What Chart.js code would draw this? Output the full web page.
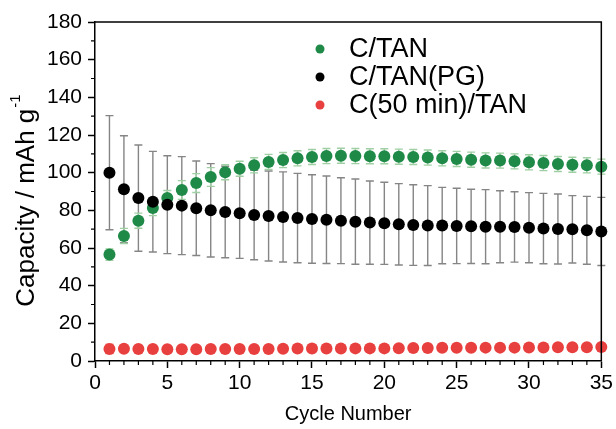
<!DOCTYPE html>
<html>
<head>
<meta charset="utf-8">
<script src="https://cdn.jsdelivr.net/npm/chart.js@4"></script>
<style>
  html, body { margin: 0; padding: 0; background: #fff; }
  #wrap { width: 616px; height: 429px; }
</style>
</head>
<body>
<div id="wrap"><canvas id="cap-chart" width="616" height="429"></canvas></div>
<script>
// Cycle numbers 1..35
const cycles = [1,2,3,4,5,6,7,8,9,10,11,12,13,14,15,16,17,18,19,20,21,22,23,24,25,26,27,28,29,30,31,32,33,34,35];

// C/TAN (green)
const ctan = [56.5,66.4,74.5,81.2,86.5,90.8,94.5,97.7,100.2,102.1,103.9,105.7,106.7,107.6,108.3,108.8,109.0,108.8,108.7,108.7,108.5,108.3,108.0,107.6,107.3,106.9,106.5,106.4,106.0,105.5,105.1,104.6,104.2,103.9,103.2];
const ctanErr = [3,4,4,4,4,5,5,5,4,4,4,4,4,4,4,4,4,4,4,4,4,4,4,4,4,4,4,4,4,4,4,4,4,4,4];

// C/TAN(PG) (black)
const ctanPG = [100.0,91.2,86.5,84.6,83.0,82.5,81.1,80.0,79.1,78.4,77.5,77.0,76.5,75.9,75.4,75.0,74.5,74.0,73.5,73.1,72.6,72.2,71.9,71.9,71.7,71.5,71.3,71.3,71.2,70.8,70.3,70.1,69.9,69.4,68.8];
const ctanPGErr = [30.3,28.4,28.2,26.7,26.0,26.0,25.1,24.8,24.3,23.9,23.7,23.9,23.9,23.7,23.5,23.2,22.8,22.6,22.1,21.8,21.6,21.4,21.2,20.3,20.0,19.7,19.7,19.1,18.7,18.6,18.7,18.6,17.9,18.0,18.1];

// C(50 min)/TAN (red)
const c50 = [6.4,6.5,6.4,6.4,6.2,6.2,6.2,6.4,6.4,6.4,6.4,6.4,6.5,6.6,6.6,6.6,6.6,6.7,6.7,6.7,6.8,6.9,6.9,7.0,7.0,7.0,7.1,7.1,7.1,7.2,7.2,7.3,7.3,7.3,7.4];
const c50Err = [2.5,0.6,0.6,0.6,0.6,0.6,0.6,0.6,0.6,0.6,0.6,0.6,0.6,0.6,0.6,0.6,0.6,0.6,0.6,0.6,0.6,0.6,0.6,0.6,0.6,0.6,0.6,0.6,0.6,0.6,0.6,0.6,0.6,0.6,0.6];

const seriesLabels = ['C/TAN', 'C/TAN(PG)', 'C(50 min)/TAN'];
const GREEN = '#1f8a48';
const BLACK = '#000000';
const RED = '#e8403f';
const FONT = "'Liberation Sans', Arial, sans-serif";

const toPoints = (ys) => cycles.map((x, i) => ({ x, y: ys[i] }));

// error bars drawn under the markers
const errorBars = {
  id: 'errorBars',
  beforeDatasetsDraw(chart) {
    const { ctx, scales: { x, y } } = chart;
    const sets = [
      { vals: ctanPG, err: ctanPGErr, color: '#858585' },
      { vals: ctan, err: ctanErr, color: '#9fcfa3' },
      { vals: c50, err: c50Err, color: '#f0a0a0' },
    ];
    ctx.save();
    ctx.lineWidth = 1.4;
    sets.forEach(s => {
      ctx.strokeStyle = s.color;
      cycles.forEach((c, i) => {
        const px = x.getPixelForValue(c);
        const top = y.getPixelForValue(s.vals[i] + s.err[i]);
        const bot = y.getPixelForValue(s.vals[i] - s.err[i]);
        ctx.beginPath();
        ctx.moveTo(px, top); ctx.lineTo(px, bot);
        ctx.moveTo(px - 4, top); ctx.lineTo(px + 4, top);
        ctx.moveTo(px - 4, bot); ctx.lineTo(px + 4, bot);
        ctx.stroke();
      });
    });
    ctx.restore();
  }
};

// frame, minor ticks, y title, legend
const decorations = {
  id: 'decorations',
  afterDraw(chart) {
    const { ctx, chartArea: a, scales: { x, y } } = chart;
    ctx.save();
    ctx.strokeStyle = '#000';
    ctx.lineWidth = 1.5;
    ctx.beginPath();
    ctx.moveTo(a.left, a.top); ctx.lineTo(a.right, a.top); ctx.lineTo(a.right, a.bottom);
    ctx.stroke();

    ctx.lineWidth = 1.2;
    ctx.beginPath();
    for (let v = 1; v < 35; v++) {
      if (v % 5 === 0) continue;
      const px = x.getPixelForValue(v);
      ctx.moveTo(px, a.bottom); ctx.lineTo(px, a.bottom + 4);
    }
    for (let v = 10; v < 180; v += 20) {
      const py = y.getPixelForValue(v);
      ctx.moveTo(a.left, py); ctx.lineTo(a.left - 4, py);
    }
    ctx.stroke();

    // y axis title with superscript
    ctx.translate(27, 201);
    ctx.rotate(-Math.PI / 2);
    ctx.fillStyle = '#000';
    ctx.textBaseline = 'middle';
    ctx.font = `26px ${FONT}`;
    const main = 'Capacity / mAh g';
    const wMain = ctx.measureText(main).width;
    ctx.font = `15px ${FONT}`;
    const wSup = ctx.measureText('-1').width;
    const start = -(wMain + wSup) / 2;
    ctx.font = `26px ${FONT}`;
    ctx.textAlign = 'left';
    ctx.fillText(main, start, 0);
    ctx.font = `15px ${FONT}`;
    ctx.fillText('-1', start + wMain + 1, -11);
    ctx.restore();

    // legend
    ctx.save();
    const colors = [GREEN, BLACK, RED];
    ctx.font = `27px ${FONT}`;
    ctx.textBaseline = 'middle';
    seriesLabels.forEach((lab, i) => {
      const ly = 49 + i * 28;
      ctx.beginPath();
      ctx.fillStyle = colors[i];
      ctx.arc(320, ly, 4.5, 0, Math.PI * 2);
      ctx.fill();
      ctx.fillStyle = '#000';
      ctx.fillText(lab, 349, ly + 1);
    });
    ctx.restore();
  }
};

new Chart(document.getElementById('cap-chart'), {
  type: 'scatter',
  data: {
    datasets: [
      { label: seriesLabels[1], data: toPoints(ctanPG), backgroundColor: BLACK, borderWidth: 0, pointRadius: 6 },
      { label: seriesLabels[0], data: toPoints(ctan), backgroundColor: GREEN, borderWidth: 0, pointRadius: 6 },
      { label: seriesLabels[2], data: toPoints(c50), backgroundColor: RED, borderWidth: 0, pointRadius: 6 },
    ],
  },
  options: {
    responsive: false,
    animation: false,
    clip: false,
    layout: { padding: { top: 22, right: 14, left: 0, bottom: 0 } },
    plugins: { legend: { display: false }, tooltip: { enabled: false } },
    scales: {
      x: {
        type: 'linear',
        min: 0, max: 35,
        afterFit: (s) => { s.height = 68; },
        grid: { drawOnChartArea: false, tickLength: 7, tickColor: '#000', tickWidth: 1.5 },
        border: { color: '#000', width: 1.5 },
        ticks: { stepSize: 5, color: '#000', padding: 3, font: { family: FONT, size: 21 } },
        title: { display: true, text: 'Cycle Number', color: '#000', font: { family: FONT, size: 20 }, padding: { top: 0, bottom: 3 } },
      },
      y: {
        min: 0, max: 180,
        afterFit: (s) => { s.width = 95; },
        grid: { drawOnChartArea: false, tickLength: 7, tickColor: '#000', tickWidth: 1.5 },
        border: { color: '#000', width: 1.5 },
        ticks: { stepSize: 20, color: '#000', padding: 6, font: { family: FONT, size: 21 } },
      },
    },
  },
  plugins: [errorBars, decorations],
});
</script>
</body>
</html>
